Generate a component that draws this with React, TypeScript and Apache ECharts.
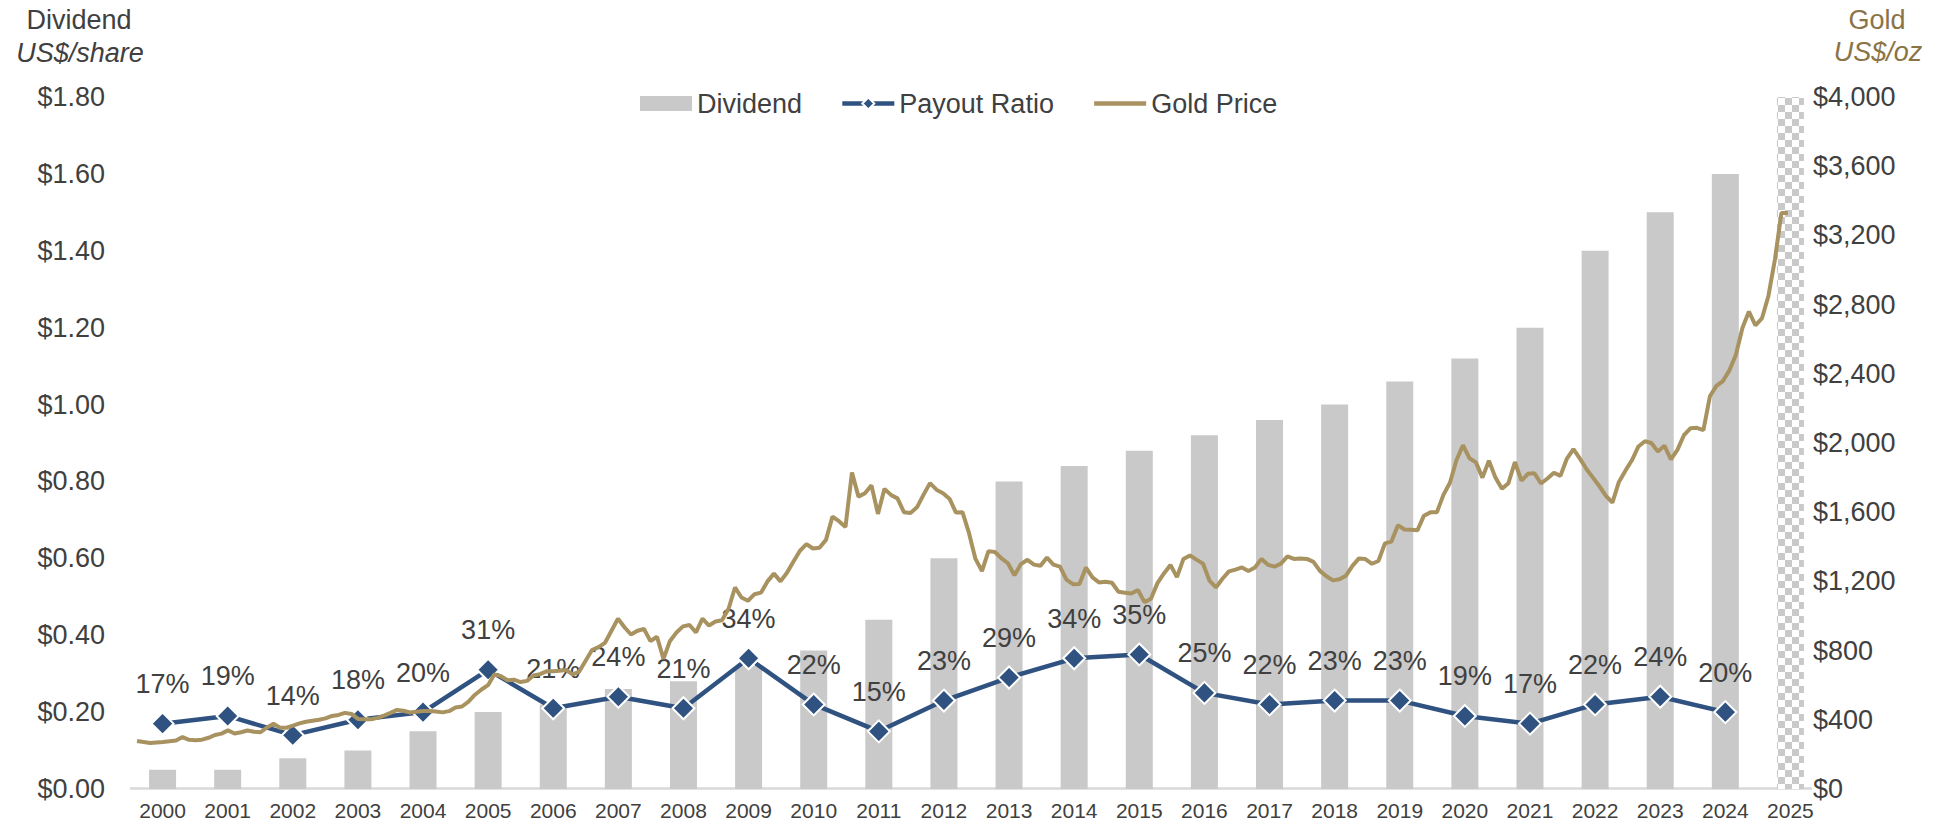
import React, { useEffect, useRef } from "react";
import * as echarts from "echarts";

// ---------- data ----------
const years = [
  "2000", "2001", "2002", "2003", "2004", "2005", "2006", "2007", "2008", "2009",
  "2010", "2011", "2012", "2013", "2014", "2015", "2016", "2017", "2018", "2019",
  "2020", "2021", "2022", "2023", "2024", "2025",
];

// Dividend, US$/share
const dividend: (number | null)[] = [
  0.05, 0.05, 0.08, 0.1, 0.15, 0.2, 0.22, 0.26, 0.28, 0.32,
  0.36, 0.44, 0.6, 0.8, 0.84, 0.88, 0.92, 0.96, 1.0, 1.06,
  1.12, 1.2, 1.4, 1.5, 1.6, null,
];

// Shaded (year-to-date) column for 2025
const ytdShade: (number | null)[] = [
  null, null, null, null, null, null, null, null, null, null,
  null, null, null, null, null, null, null, null, null, null,
  null, null, null, null, null, 1.8,
];

// Payout ratio (plotted on the dividend axis as a fraction)
const payoutRatio: (number | null)[] = [
  0.17, 0.19, 0.14, 0.18, 0.2, 0.31, 0.21, 0.24, 0.21, 0.34,
  0.22, 0.15, 0.23, 0.29, 0.34, 0.35, 0.25, 0.22, 0.23, 0.23,
  0.19, 0.17, 0.22, 0.24, 0.2, null,
];

// Gold price, US$/oz (equally spaced readings along the period)
const goldPrice: number[] = [
  278, 272, 266, 269, 272, 276, 280, 300, 284, 282,
  285, 296, 312, 320, 339, 321, 328, 338, 331, 328,
  356, 377, 354, 354, 366, 379, 389, 395, 400, 408,
  422, 428, 440, 434, 405, 403, 403, 411, 424, 440,
  457, 452, 442, 447, 451, 451, 448, 443, 450, 471,
  477, 505, 545, 575, 600, 663, 652, 629, 632, 618,
  625, 656, 664, 680, 681, 684, 688, 662, 677, 740,
  803, 820, 845, 915, 985, 935, 893, 915, 925, 855,
  880, 752, 856, 905, 940, 948, 905, 985, 945, 968,
  975, 1040, 1165, 1107, 1088, 1126, 1135, 1200, 1245, 1200,
  1250, 1315, 1377, 1415, 1390, 1395, 1440, 1575, 1548, 1515,
  1830, 1690, 1710, 1755, 1590, 1735, 1700, 1680, 1600, 1595,
  1628, 1700, 1768, 1730, 1710, 1678, 1598, 1600, 1480, 1330,
  1260, 1375, 1370, 1333, 1305, 1235, 1300, 1325, 1297, 1290,
  1338, 1297, 1285, 1210, 1184, 1185, 1280, 1223, 1194, 1198,
  1192, 1140, 1135, 1130, 1150, 1080, 1100, 1190, 1246, 1295,
  1225, 1330, 1350, 1326, 1303, 1205, 1165, 1215, 1258, 1268,
  1281, 1260, 1280, 1330, 1296, 1285, 1303, 1345, 1330, 1333,
  1330, 1313, 1261, 1230, 1206, 1212, 1233, 1290, 1333, 1329,
  1302, 1318, 1420, 1430, 1525, 1500, 1498, 1495, 1580, 1599,
  1600, 1700, 1770, 1900, 1987, 1912, 1888, 1800, 1898, 1800,
  1735, 1768, 1890, 1782, 1822, 1825, 1766, 1795, 1828, 1810,
  1910, 1965, 1910, 1850, 1800, 1750, 1695, 1655, 1775, 1840,
  1900, 1980, 2010, 2000, 1950, 1985, 1905, 1960, 2045, 2085,
  2088, 2075, 2270, 2330, 2358, 2420, 2510, 2665, 2760, 2680,
  2720, 2850, 3060, 3330, 3330,
];

const legendNames = ["Dividend", "Payout Ratio", "Gold Price"];

// ---------- styles ----------
const FONT = "'Liberation Sans', Arial, Helvetica, sans-serif";
const TEXT = "#404040";
const NAVY = "#2F5281";
const GOLD = "#A89260";
const GOLD_TEXT = "#8A7446";
const BAR_GREY = "#C9C9C9";

// hidden x axis for the gold series (index range of readings)
const GOLD_AXIS_MIN = -1.08;
const GOLD_AXIS_MAX = 259.4;

export default function App() {
  const ref = useRef<HTMLDivElement>(null);

  useEffect(() => {
    if (!ref.current) return;
    const chart = echarts.init(ref.current, null, { renderer: "svg" });

    const option: any = {
      animation: false,
      backgroundColor: "#ffffff",
      textStyle: { fontFamily: FONT },
      grid: { left: 130, right: 129, top: 97, bottom: 35, containLabel: false },
      legend: {
        data: [
          { name: legendNames[0], icon: "rect" },
          { name: legendNames[1], lineStyle: { width: 4.5 } },
          { name: legendNames[2], itemStyle: { opacity: 0 }, lineStyle: { width: 4.5 } },
        ],
        left: 635,
        top: 85,
        itemWidth: 52,
        itemHeight: 15,
        itemGap: 38,
        selectedMode: false,
        textStyle: { fontSize: 27, color: TEXT, fontFamily: FONT },
      },
      xAxis: [
        {
          type: "category",
          data: years,
          axisLine: { show: false },
          axisTick: { show: false },
          splitLine: { show: false },
          axisLabel: { fontSize: 21, color: TEXT, margin: 11, interval: 0, fontFamily: FONT },
        },
        {
          type: "value",
          show: false,
          min: GOLD_AXIS_MIN,
          max: GOLD_AXIS_MAX,
          splitLine: { show: false },
        },
      ],
      yAxis: [
        {
          type: "value",
          min: 0,
          max: 1.8,
          interval: 0.2,
          splitLine: { show: false },
          axisLine: { show: false },
          axisTick: { show: false },
          axisLabel: {
            fontSize: 27,
            color: TEXT,
            margin: 25,
            fontFamily: FONT,
            formatter: (v: number) => "$" + v.toFixed(2),
          },
        },
        {
          type: "value",
          position: "right",
          min: 0,
          max: 4000,
          interval: 400,
          splitLine: { show: false },
          axisLine: { show: false },
          axisTick: { show: false },
          axisLabel: {
            fontSize: 27,
            color: TEXT,
            margin: -10,
            fontFamily: FONT,
            formatter: (v: number) => "$" + v.toLocaleString("en-US"),
          },
        },
      ],
      series: [
        {
          name: "Dividend",
          type: "bar",
          data: dividend,
          barWidth: 27,
          barGap: "-100%",
          itemStyle: { color: BAR_GREY },
          z: 2,
        },
        {
          name: "2025 YTD",
          type: "bar",
          data: ytdShade,
          barWidth: 27,
          barGap: "-100%",
          itemStyle: {
            color: "#FFFFFF",
            decal: {
              symbol: "rect",
              symbolSize: 1,
              dashArrayX: [
                [6.7, 6.7],
                [0, 6.7, 6.7, 0],
              ],
              dashArrayY: [6.7, 0],
              color: BAR_GREY,
            },
          },
          z: 1,
        },
        {
          name: "Payout Ratio",
          type: "line",
          data: payoutRatio,
          symbol: "diamond",
          symbolSize: 22,
          lineStyle: { color: NAVY, width: 4.5 },
          itemStyle: { color: NAVY, borderColor: "#FFFFFF", borderWidth: 2 },
          label: {
            show: true,
            position: "top",
            distance: 14,
            fontSize: 27,
            color: TEXT,
            fontFamily: FONT,
            formatter: (p: any) => Math.round(p.value * 100) + "%",
          },
          z: 3,
        },
        {
          name: "Gold Price",
          type: "line",
          xAxisIndex: 1,
          yAxisIndex: 1,
          data: goldPrice.map((v, i) => [i, v]),
          symbol: "none",
          showSymbol: false,
          lineStyle: { color: GOLD, width: 4 },
          itemStyle: { color: GOLD },
          z: 5,
        },
      ],
      graphic: [
        {
          type: "line",
          shape: { x1: 130, y1: 788.5, x2: 1812, y2: 788.5 },
          style: { stroke: "#D9D9D9", lineWidth: 2.5 },
          z: 1,
        },
        {
          type: "text",
          x: 79,
          y: 20,
          style: {
            text: "Dividend",
            fill: TEXT,
            fontSize: 27,
            fontFamily: FONT,
            align: "center",
            verticalAlign: "middle",
          },
        },
        {
          type: "text",
          x: 80,
          y: 53,
          style: {
            text: "US$/share",
            fill: TEXT,
            fontSize: 27,
            fontStyle: "italic",
            fontFamily: FONT,
            align: "center",
            verticalAlign: "middle",
          },
        },
        {
          type: "text",
          x: 1877,
          y: 20,
          style: {
            text: "Gold",
            fill: GOLD_TEXT,
            fontSize: 27,
            fontFamily: FONT,
            align: "center",
            verticalAlign: "middle",
          },
        },
        {
          type: "text",
          x: 1878,
          y: 52,
          style: {
            text: "US$/oz",
            fill: GOLD_TEXT,
            fontSize: 27,
            fontStyle: "italic",
            fontFamily: FONT,
            align: "center",
            verticalAlign: "middle",
          },
        },
      ],
    };

    chart.setOption(option);
    return () => chart.dispose();
  }, []);

  return (
    <div
      ref={ref}
      style={{ position: "absolute", left: 0, top: 0, width: 1952, height: 824 }}
    />
  );
}
